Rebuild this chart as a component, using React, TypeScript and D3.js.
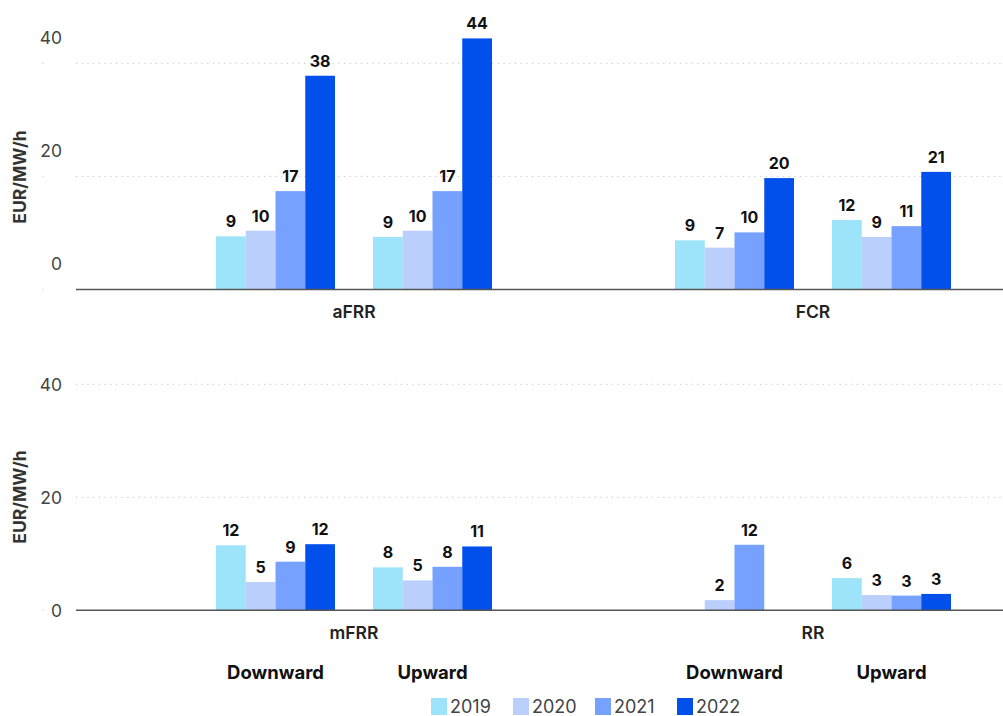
import React from "react";
import * as d3 from "d3";

// Balancing capacity prices by product, direction and year (EUR/MW/h)
const years = ["2019", "2020", "2021", "2022"];
const directions = ["Downward", "Upward"];
const topProducts = ["aFRR", "FCR"];
const bottomProducts = ["mFRR", "RR"];
const yTicks = [0, 20, 40];

// Order: aFRR Down, aFRR Up, FCR Down, FCR Up, mFRR Down, mFRR Up, RR Down, RR Up
const v2019: (number | null)[] = [9.4, 9.3, 8.7, 12.3, 11.5, 7.6, null, 5.7];
const v2020: (number | null)[] = [10.4, 10.4, 7.4, 9.3, 5.0, 5.3, 1.8, 2.7];
const v2021: (number | null)[] = [17.4, 17.4, 10.1, 11.2, 8.6, 7.7, 11.6, 2.6];
const v2022: (number | null)[] = [37.8, 44.4, 19.7, 20.8, 11.7, 11.3, null, 2.9];

const seriesValues = [v2019, v2020, v2021, v2022];
const colors = ["#9de4fa", "#bbcffd", "#77a1fe", "#0250eb"];

const W = 1003;
const H = 716;
const FONT = "Inter, 'Noto Sans', sans-serif";

type PanelProps = {
  products: string[];
  offset: number; // index offset into the series arrays
  y0: number;
  y40: number;
  tickShift: number;
  titleY: number;
  catLabelY: number;
  showDirections: boolean;
};

function Panel({ products, offset, y0, y40, tickShift, titleY, catLabelY, showDirections }: PanelProps) {
  const y = d3.scaleLinear().domain([0, 40]).range([y0, y40]);
  const xCat = d3.scaleBand<string>().domain(products).range([124.5, 1042.5]);
  const xDir = d3.scalePoint<string>().domain(directions).range([-78.5, 78.5]);
  const xYear = d3.scaleBand<string>().domain(years).range([-59.5, 59.5]);
  const gridLeft = 76;

  return (
    <g>
      {yTicks.map((t) => (
        <g key={t}>
          {t > 0 && (
            <line
              x1={gridLeft}
              x2={W}
              y1={y(t)}
              y2={y(t)}
              stroke="#c4c4c4"
              strokeWidth={1}
              strokeDasharray="1.2 4.5"
            />
          )}
          <line x1={42} x2={44} y1={y(t)} y2={y(t)} stroke="#e2e2e2" strokeWidth={1} />
          <text
            x={62}
            y={y(t) + tickShift}
            dy="0.36em"
            textAnchor="end"
            fontSize={17.5}
            fill="#444"
            fontFamily={FONT}
          >
            {t}
          </text>
        </g>
      ))}
      <text
        transform={`translate(26,${titleY}) rotate(-90)`}
        textAnchor="middle"
        fontSize={17.5}
        fontWeight={700}
        fill="#333"
        fontFamily={FONT}
      >
        EUR/MW/h
      </text>

      {products.map((p, pi) =>
        directions.map((dir, di) => {
          const idx = offset + pi * 2 + di;
          const cx = (xCat(p) ?? 0) + xCat.bandwidth() / 2 + (xDir(dir) ?? 0);
          return (
            <g key={p + dir}>
              {years.map((yr, yi) => {
                const v = seriesValues[yi][idx];
                if (v == null) return null;
                const bx = cx + (xYear(yr) ?? 0);
                const bw = xYear.bandwidth();
                return (
                  <g key={yr}>
                    <rect x={bx} y={y(v)} width={bw} height={y(0) - y(v)} fill={colors[yi]} />
                    <text
                      x={bx + bw / 2}
                      y={y(v) - 9}
                      textAnchor="middle"
                      fontSize={16}
                      fontWeight={700}
                      fill="#111"
                      fontFamily={FONT}
                    >
                      {Math.round(v)}
                    </text>
                  </g>
                );
              })}
              {showDirections && (
                <text
                  x={cx}
                  y={678.5}
                  textAnchor="middle"
                  fontSize={18.5}
                  fontWeight={700}
                  fill="#111"
                  fontFamily={FONT}
                >
                  {dir}
                </text>
              )}
            </g>
          );
        })
      )}

      <line x1={gridLeft} x2={W} y1={y(0)} y2={y(0)} stroke="#555" strokeWidth={1.5} />

      {products.map((p) => (
        <text
          key={p}
          x={(xCat(p) ?? 0) + xCat.bandwidth() / 2}
          y={catLabelY}
          textAnchor="middle"
          fontSize={17.5}
          fontWeight={600}
          fill="#222"
          fontFamily={FONT}
        >
          {p}
        </text>
      ))}
    </g>
  );
}

export default function App() {
  const legendX = d3.scalePoint<string>().domain(years).range([431, 677]);
  return (
    <svg
      width={W}
      height={H}
      viewBox={`0 0 ${W} ${H}`}
      style={{ position: "absolute", left: 0, top: 0, background: "#fff" }}
    >
      <rect width={W} height={H} fill="#fff" />
      <Panel
        products={topProducts}
        offset={0}
        y0={289.5}
        y40={63.3}
        tickShift={-25.5}
        titleY={177}
        catLabelY={318}
        showDirections={false}
      />
      <Panel
        products={bottomProducts}
        offset={4}
        y0={610.3}
        y40={384.3}
        tickShift={0}
        titleY={497}
        catLabelY={639}
        showDirections={true}
      />
      {years.map((yr, i) => (
        <g key={yr} transform={`translate(${legendX(yr)},698)`}>
          <rect width={16} height={17} fill={colors[i]} />
          <text x={19} y={9} dy="0.36em" fontSize={18} fill="#444" fontFamily={FONT}>
            {yr}
          </text>
        </g>
      ))}
    </svg>
  );
}
